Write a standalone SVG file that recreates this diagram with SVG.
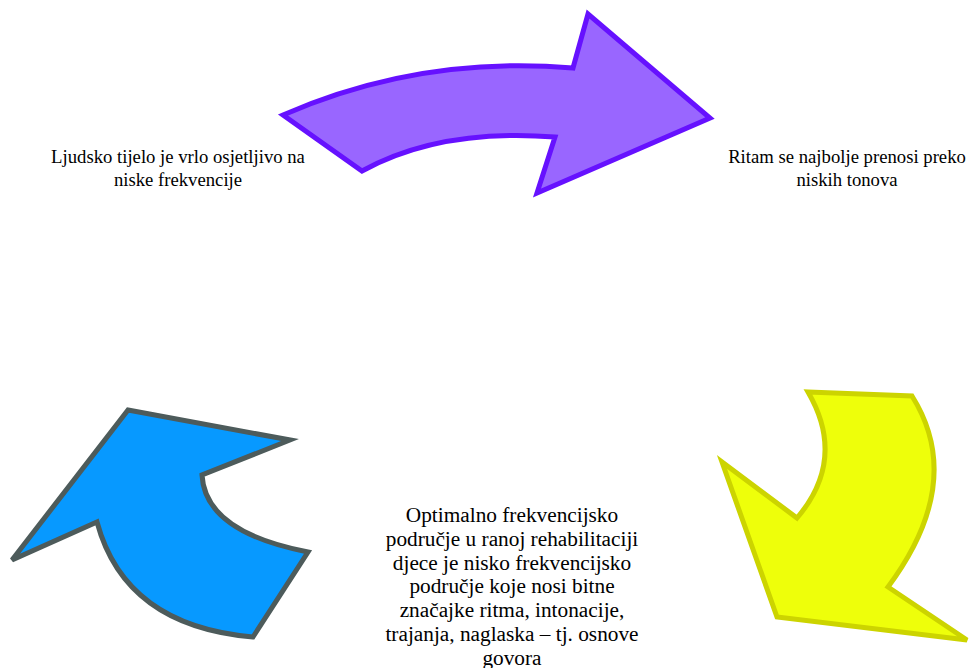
<svg xmlns="http://www.w3.org/2000/svg" width="969" height="668" viewBox="0 0 969 668">
<style>
  text { font-family: "Liberation Serif", "Times New Roman", serif; fill: #000; text-anchor: middle; }
  .s { font-size: 18.7px; }
  .l { font-size: 21.3px; }
  .arrow { stroke-width: 5; stroke-linejoin: miter; }
</style>
<rect width="969" height="668" fill="#fff"/>
<g id="connectors">
  <path id="arrow-purple" class="arrow" fill="#9966FF" stroke="#6611FF" d="M283,115 Q420,55 573,68 L588,14 L710,118 L537,193 L555,137 Q440,128 362,171 Z"/>
  <path id="arrow-yellow" class="arrow" fill="#EEFF0A" stroke="#CCD400" d="M808,392 L912,396 Q966,482 888,587 L967,640 L777,617 L722,462 L797,518 Q847,459 808,392 Z"/>
  <path id="arrow-blue" class="arrow" fill="#0799FF" stroke="#4D5B5B" d="M128,410 L290,440 L202,475 Q205,532 308,552 L253,637 Q125,626 97,522 L12,560 Z"/>
</g>
<g id="node-left">
  <text class="s" x="178" y="163">Ljudsko tijelo je vrlo osjetljivo na</text>
  <text class="s" x="178" y="186">niske frekvencije</text>
</g>
<g id="node-right">
  <text class="s" x="847" y="163">Ritam se najbolje prenosi preko</text>
  <text class="s" x="847" y="186">niskih tonova</text>
</g>
<g id="node-bottom">
  <text class="l" x="512" y="522">Optimalno frekvencijsko</text>
  <text class="l" x="512" y="545.8">područje u ranoj rehabilitaciji</text>
  <text class="l" x="512" y="569.6">djece je nisko frekvencijsko</text>
  <text class="l" x="512" y="593.4">područje koje nosi bitne</text>
  <text class="l" x="512" y="617.2">značajke ritma, intonacije,</text>
  <text class="l" x="512" y="641">trajanja, naglaska – tj. osnove</text>
  <text class="l" x="512" y="664.8">govora</text>
</g>
</svg>
